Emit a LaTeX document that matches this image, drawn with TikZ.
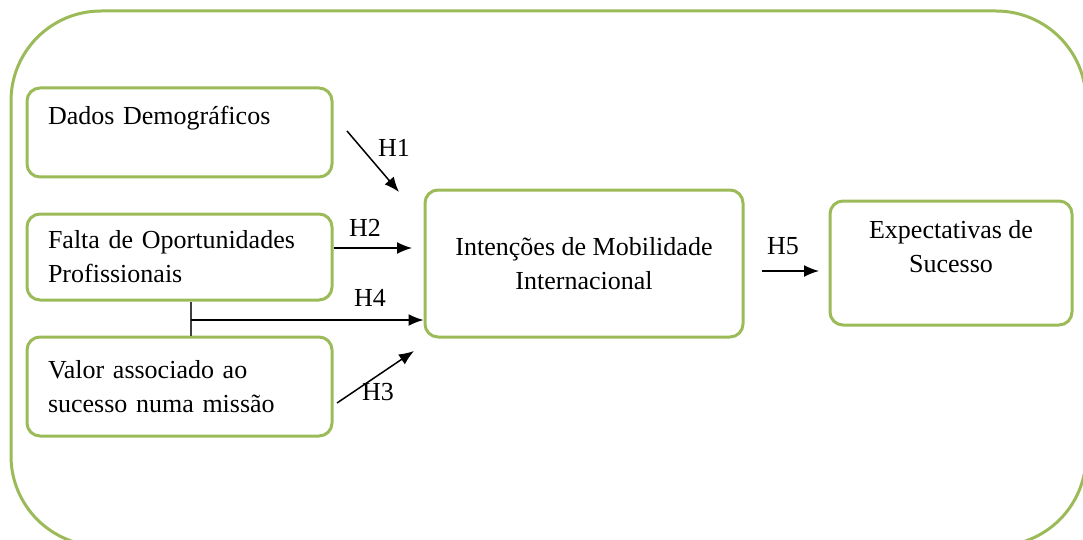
\documentclass[tikz,border=0pt]{standalone}
\usepackage{fontspec}
\setmainfont{Liberation Serif}
\usetikzlibrary{positioning, arrows.meta}
\definecolor{verde}{HTML}{9BBB59}
\newcommand{\setapadrao}{-{Latex[length=15pt,width=12pt]}}
\tikzset{
    caixa/.style={draw=verde, line width=3pt, rounded corners=13pt, inner sep=0pt},
    esquerda/.style={caixa, minimum width=305pt, text width=263pt, align=left},
    centro/.style={caixa, align=center},
    rotulo/.style={inner sep=0pt}
}
\begin{document}
\begin{tikzpicture}[x=1pt, y=-1pt, font=\fontsize{26}{34}\selectfont, line width=1.5pt]
        \clip (0,0) rectangle (1083,540);
        \draw[verde, line width=3pt, rounded corners=90pt] (11,11) rectangle (1086,546);
        \node[esquerda, minimum height=89pt] (dados) at (179.5,132.5) { Dados Demográficos\\~ };
        \node[esquerda, minimum height=86pt] (falta) at (179.5,257) { Falta de Oportunidades\\Profissionais };
        \node[esquerda, minimum height=99pt] (valor) at (179.5,386.5) { Valor associado ao\\sucesso numa missão };
        \node[centro, minimum width=318pt, minimum height=147pt] (intencoes) at (584,263.5) { Intenções de Mobilidade\\Internacional };
        \node[centro, minimum width=242pt, minimum height=124pt] (expectativas) at (951,263) { Expectativas de\\Sucesso\\~ };
        % pontos soltos das setas
        \coordinate (h1a) at (347,131);
        \coordinate (h1b) at (399,192);
        \coordinate (h2b) at (412,248);
        \coordinate (h3a) at (337,403);
        \coordinate (h3b) at (414,351);
        \coordinate (juncao) at (191,320);
        \coordinate (h5a) at (762,271);
        \coordinate (h5b) at (819,271);
        \draw[\setapadrao] (h1a) -- (h1b);
        \draw[\setapadrao] ([yshift=9pt]falta.east) -- (h2b);
        \draw[\setapadrao] (h3a) -- (h3b);
        \draw[black!75] (juncao |- falta.south) -- (juncao |- valor.north);
        \draw[\setapadrao] (juncao) -- (juncao -| intencoes.west);
        \draw[\setapadrao] (h5a) -- (h5b);
        \node[rotulo] (r1) at (394,148) {H1};
        \node[rotulo] (r2) at (365,228) {H2};
        \node[rotulo] (r4) at (370,298) {H4};
        \node[rotulo] (r3) at (378,392) {H3};
        \node[rotulo] (r5) at (783,246) {H5};
    \end{tikzpicture}
\end{document}
